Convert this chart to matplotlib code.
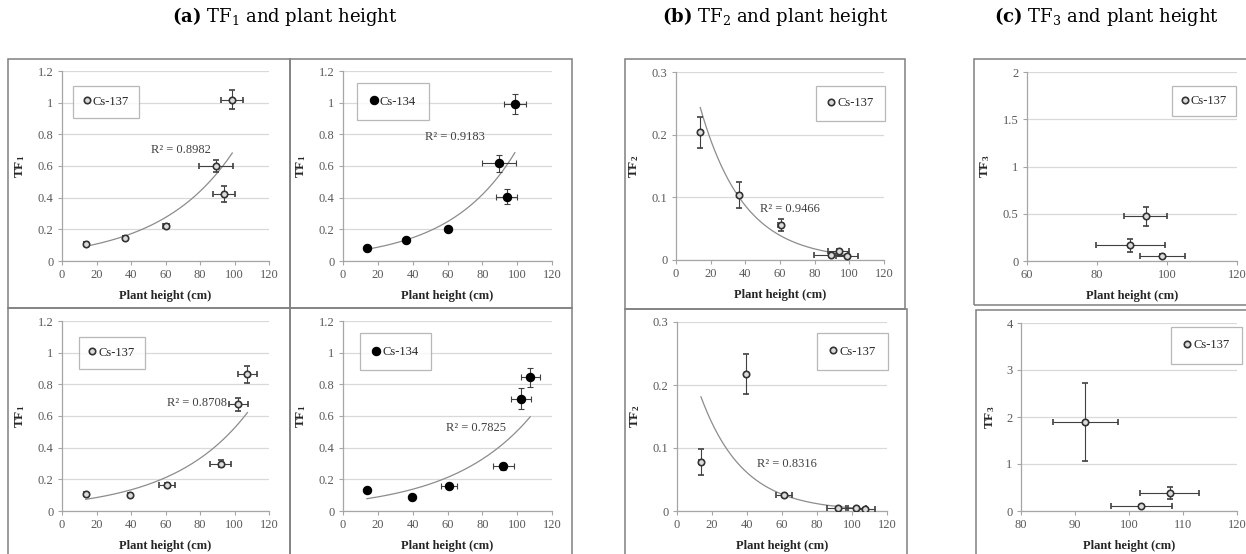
import numpy as np
import matplotlib.pyplot as plt
from matplotlib.patches import Rectangle
from matplotlib.lines import Line2D

W, H = 1246, 554

plt.rcParams['font.family'] = ['Liberation Serif', 'DejaVu Serif']
plt.rcParams['mathtext.fontset'] = 'custom'
plt.rcParams['mathtext.rm'] = 'Liberation Serif'
plt.rcParams['mathtext.it'] = 'Liberation Serif:italic'
plt.rcParams['mathtext.bf'] = 'Liberation Serif:bold'

# --- data ---
# plant height (cm) with its error, first and second growing period
height_1 = [14.0, 36.4, 60.4, 89.5, 93.9, 98.7]
height_1_err = [1.0, 1.0, 1.6, 9.8, 6.1, 6.4]
height_2 = [13.7, 39.7, 61.0, 91.9, 102.3, 107.5]
height_2_err = [1.0, 1.0, 4.7, 6.0, 5.7, 5.4]

# TF1 (first period)
tf1_cs137_1 = [0.110, 0.147, 0.222, 0.600, 0.425, 1.020]
tf1_cs137_1_err = [0.010, 0.010, 0.010, 0.040, 0.050, 0.063]
tf1_cs134_1 = [0.083, 0.133, 0.203, 0.617, 0.405, 0.992]
tf1_cs134_1_err = [0.012, 0.010, 0.008, 0.055, 0.048, 0.065]
# TF1 (second period)
tf1_cs137_2 = [0.106, 0.103, 0.166, 0.300, 0.673, 0.863]
tf1_cs137_2_err = [0.010, 0.008, 0.012, 0.020, 0.042, 0.052]
tf1_cs134_2 = [0.131, 0.089, 0.156, 0.283, 0.709, 0.844]
tf1_cs134_2_err = [0.010, 0.008, 0.010, 0.022, 0.065, 0.058]

# TF2
tf2_cs137_1 = [0.2035, 0.1037, 0.0559, 0.0085, 0.0150, 0.0065]
tf2_cs137_1_err = [0.025, 0.020, 0.010, 0.002, 0.002, 0.002]
tf2_cs137_2 = [0.0778, 0.218, 0.0249, 0.0053, 0.0042, 0.0037]
tf2_cs137_2_err = [0.021, 0.032, 0.002, 0.001, 0.001, 0.001]

# TF3 (only the three tallest stages)
tf3_cs137_1 = [0.166, 0.473, 0.056]
tf3_cs137_1_err = [0.07, 0.10, 0.02]
tf3_cs137_2 = [1.90, 0.107, 0.391]
tf3_cs137_2_err = [0.83, 0.03, 0.13]

r2_labels = ['R² = 0.8982', 'R² = 0.9183', 'R² = 0.8708', 'R² = 0.7825',
             'R² = 0.9466', 'R² = 0.8316']

GRID = '#d9d9d9'
SPINE = '#a6a6a6'
TICK = '#595959'
FRAME = '#808080'

fig = plt.figure(figsize=(W / 100, H / 100), dpi=100)


def px_rect(x0, x1, y0, y1):
    return [x0 / W, 1 - y1 / H, (x1 - x0) / W, (y1 - y0) / H]


# chart-area frames
for x0, x1, y0, y1 in [(8, 290, 59, 308), (290, 572, 59, 308),
                       (8, 290, 308, 560), (290, 572, 308, 560),
                       (625, 905, 59, 309), (625, 907, 309, 560),
                       (974, 1260, 59, 305), (976, 1260, 310, 560)]:
    fig.patches.append(Rectangle((x0 / W, 1 - y1 / H), (x1 - x0) / W, (y1 - y0) / H,
                                 transform=fig.transFigure, fill=False,
                                 edgecolor=FRAME, linewidth=1.1, zorder=0))


def make_axes(px, xlim, xticks, ylim, yticks, ylabel, ylabel_off=35):
    ax = fig.add_axes(px_rect(*px))
    ax.set_xlim(*xlim)
    ax.set_ylim(*ylim)
    ax.set_xticks(xticks)
    ax.set_yticks(yticks)
    ax.set_xticklabels([f'{v:g}' for v in xticks])
    ax.set_yticklabels([f'{v:g}' for v in yticks])
    for s in ['top', 'right']:
        ax.spines[s].set_visible(False)
    for s in ['left', 'bottom']:
        ax.spines[s].set_color(SPINE)
        ax.spines[s].set_linewidth(0.9)
    ax.tick_params(length=3, width=0.8, color=SPINE, labelsize=9,
                   labelcolor=TICK, pad=3)
    ax.yaxis.grid(True, color=GRID, linewidth=0.9)
    ax.set_axisbelow(True)
    ax.set_facecolor('none')
    wpx = px[1] - px[0]
    hpx = px[3] - px[2]
    ax.set_xlabel('Plant height (cm)', fontsize=9, fontweight='bold', color='#262626')
    ax.xaxis.set_label_coords(0.5, -29 / hpx)
    ax.set_ylabel(ylabel, fontsize=9.5, color='#262626')
    ax.yaxis.set_label_coords(-ylabel_off / wpx, 0.5)
    return ax


def draw_series(ax, x, y, xerr, yerr, isotope):
    if isotope == 'Cs-134':
        mk = dict(marker='o', markersize=6.0, markerfacecolor='black',
                  markeredgecolor='black', markeredgewidth=0.8)
    else:
        mk = dict(marker='o', markersize=4.6, markerfacecolor='#dcdcdc',
                  markeredgecolor='#333333', markeredgewidth=1.2)
    ax.errorbar(x, y, xerr=xerr, yerr=yerr, linestyle='none', ecolor='#404040',
                elinewidth=0.8, capsize=2.2, capthick=0.8, zorder=3, **mk)
    handle = Line2D([], [], linestyle='none', **mk)
    return handle


def draw_fit(ax, x, y, label, lx, ly):
    # exponential trendline fitted on log(y)
    b, ln_a = np.polyfit(np.array(x), np.log(np.array(y)), 1)
    xs = np.linspace(min(x), max(x), 200)
    ax.plot(xs, np.exp(ln_a) * np.exp(b * xs), color='#8c8c8c', linewidth=0.9, zorder=2)
    ax.text(lx, ly, label, fontsize=9, color='#404040', ha='center', va='center')


def add_legend(ax, handle, isotope, cx, cy, pad):
    leg = ax.legend([handle], [isotope], loc='center', bbox_to_anchor=(cx, cy),
                    frameon=True, fancybox=False, fontsize=9, handlelength=0.6,
                    handletextpad=0.2, borderpad=pad, borderaxespad=0)
    leg.get_frame().set_edgecolor('#a6a6a6')
    leg.get_frame().set_linewidth(0.9)
    for t in leg.get_texts():
        t.set_color('#262626')


tf1_label = r'$\mathbf{TF_1}$'
tf2_label = r'$\mathbf{TF_2}$'
tf3_label = r'$\mathbf{TF_3}$'
x_ticks = [0, 20, 40, 60, 80, 100, 120]
tf1_ticks = [0, 0.2, 0.4, 0.6, 0.8, 1.0, 1.2]
tf2_ticks = [0, 0.1, 0.2, 0.3]

# (a) TF1, first row
ax = make_axes((62, 269, 71, 261), (0, 120), x_ticks, (0, 1.2), tf1_ticks, tf1_label)
h = draw_series(ax, height_1, tf1_cs137_1, height_1_err, tf1_cs137_1_err, 'Cs-137')
draw_fit(ax, height_1, tf1_cs137_1, r2_labels[0], 69, 0.70)
add_legend(ax, h, 'Cs-137', 0.212, 0.838, 0.8)

ax = make_axes((343, 552, 71, 261), (0, 120), x_ticks, (0, 1.2), tf1_ticks, tf1_label)
h = draw_series(ax, height_1, tf1_cs134_1, height_1_err, tf1_cs134_1_err, 'Cs-134')
draw_fit(ax, height_1, tf1_cs134_1, r2_labels[1], 64, 0.78)
add_legend(ax, h, 'Cs-134', 0.239, 0.838, 1.0)

# (a) TF1, second row
ax = make_axes((62, 269, 321, 511), (0, 120), x_ticks, (0, 1.2), tf1_ticks, tf1_label)
h = draw_series(ax, height_2, tf1_cs137_2, height_2_err, tf1_cs137_2_err, 'Cs-137')
draw_fit(ax, height_2, tf1_cs137_2, r2_labels[2], 78, 0.685)
add_legend(ax, h, 'Cs-137', 0.24, 0.833, 0.8)

ax = make_axes((343, 552, 321, 511), (0, 120), x_ticks, (0, 1.2), tf1_ticks, tf1_label)
h = draw_series(ax, height_2, tf1_cs134_2, height_2_err, tf1_cs134_2_err, 'Cs-134')
draw_fit(ax, height_2, tf1_cs134_2, r2_labels[3], 76.5, 0.527)
add_legend(ax, h, 'Cs-134', 0.252, 0.837, 1.0)

# (b) TF2
ax = make_axes((676, 884, 72, 260), (0, 120), x_ticks, (0, 0.3), tf2_ticks, tf2_label)
h = draw_series(ax, height_1, tf2_cs137_1, height_1_err, tf2_cs137_1_err, 'Cs-137')
draw_fit(ax, height_1, tf2_cs137_1, r2_labels[4], 65.5, 0.0815)
add_legend(ax, h, 'Cs-137', 0.838, 0.833, 0.9)

ax = make_axes((677, 887, 322, 511), (0, 120), x_ticks, (0, 0.3), tf2_ticks, tf2_label)
h = draw_series(ax, height_2, tf2_cs137_2, height_2_err, tf2_cs137_2_err, 'Cs-137')
draw_fit(ax, height_2, tf2_cs137_2, r2_labels[5], 63, 0.074)
add_legend(ax, h, 'Cs-137', 0.835, 0.842, 1.0)

# (c) TF3
ax = make_axes((1027, 1237, 72, 261), (60, 120), [60, 80, 100, 120], (0, 2),
               [0, 0.5, 1, 1.5, 2], tf3_label)
h = draw_series(ax, height_1[3:], tf3_cs137_1, height_1_err[3:], tf3_cs137_1_err, 'Cs-137')
add_legend(ax, h, 'Cs-137', 0.843, 0.847, 0.7)

ax = make_axes((1021, 1237, 323, 511), (80, 120), [80, 90, 100, 110, 120], (0, 4),
               [0, 1, 2, 3, 4], tf3_label, ylabel_off=24)
h = draw_series(ax, height_2[3:], tf3_cs137_2, height_2_err[3:], tf3_cs137_2_err, 'Cs-137')
add_legend(ax, h, 'Cs-137', 0.859, 0.882, 1.0)

# group titles
for x, tag, sub in [(285, 'a', 1), (775, 'b', 2), (1106, 'c', 3)]:
    fig.text(x / W, 1 - 17 / H, rf'$\mathbf{{({tag})}}$ $\mathrm{{TF}}_{sub}$ and plant height',
             fontsize=13, family='DejaVu Serif', math_fontfamily='dejavuserif',
             ha='center', va='center', color='black')

fig.savefig('out.png', dpi=100)
